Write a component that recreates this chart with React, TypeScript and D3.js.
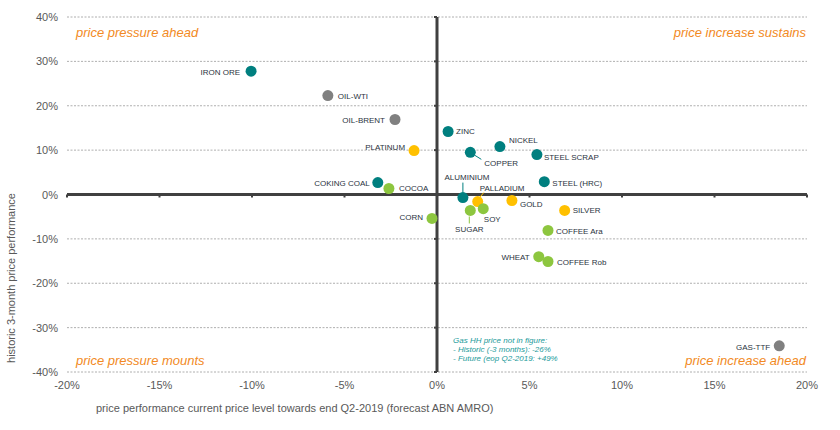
import React from "react";
import * as d3 from "d3";

const names = ["IRON ORE","OIL-WTI","OIL-BRENT","PLATINUM","COKING COAL","COCOA","ZINC","NICKEL","COPPER","STEEL SCRAP","STEEL (HRC)","ALUMINIUM","PALLADIUM","GOLD","SILVER","SUGAR","SOY","CORN","COFFEE Ara","WHEAT","COFFEE Rob","GAS-TTF"];
const forecastChange = [-10.05,-5.9,-2.27,-1.24,-3.2,-2.6,0.6,3.4,1.8,5.4,5.8,1.4,2.2,4.05,6.9,1.8,2.5,-0.27,6.0,5.5,6.0,18.5];
const historicChange = [27.8,22.3,16.9,9.9,2.7,1.35,14.2,10.8,9.5,9.0,2.9,-0.7,-1.6,-1.35,-3.6,-3.6,-3.2,-5.4,-8.1,-14.0,-15.1,-34.1];
const groups = ["metal","energy","energy","precious","metal","agri","metal","metal","metal","metal","metal","metal","precious","precious","precious","agri","agri","agri","agri","agri","agri","energy"];

const xTicks = [-20,-15,-10,-5,0,5,10,15,20];
const yTicks = [40,30,20,10,0,-10,-20,-30,-40];

const colorMap: Record<string,string> = { metal: "#007f7f", energy: "#808080", precious: "#ffc000", agri: "#8dc63f" };

// label placement: [dx, dy, anchor, leader?]
const labelPlace: [number, number, string, number[] | null][] = [
  [-11, 4, "end", null],
  [10, 3, "start", null],
  [-10, 3, "end", null],
  [-9, -1, "end", null],
  [-8, 3, "end", null],
  [10, 2, "start", null],
  [8, 3, "start", null],
  [9, -4, "start", null],
  [14, 14, "start", [3, 2, 11, 7]],
  [7, 5, "start", null],
  [8, 4, "start", null],
  [4, -18, "middle", [0, -5, 0, -15]],
  [2, -11, "start", [2, -4, 6, -9]],
  [8, 7, "start", null],
  [8, 3, "start", null],
  [-1, 22, "middle", [-1, 6, -1, 13]],
  [9, 13, "middle", null],
  [-9, 2, "end", null],
  [8, 4, "start", null],
  [-9, 3, "end", null],
  [9, 3, "start", null],
  [-9, 4, "end", null],
];

const noteLines = ["Gas HH price not  in figure:", "- Historic (-3 months):  -26%", "- Future  (eop Q2-2019:  +49%"];

export default function App() {
  const W = 840, H = 430;
  const x = d3.scaleLinear().domain([-20, 20]).range([67, 807]);
  const y = d3.scaleLinear().domain([-40, 40]).range([372, 17]);
  const font = "'Liberation Sans', Arial, sans-serif";
  const orange = "#f28a24";
  const data = names.map((n, i) => ({ n, fx: forecastChange[i], hy: historicChange[i], g: groups[i], lp: labelPlace[i] }));
  return (
    <svg width={W} height={H} style={{ position: "absolute", left: 0, top: 0, background: "#fff" }} fontFamily={font}>
      {yTicks.filter(t => t !== 0).map(t => (
        <line key={"g" + t} x1={x(-20)} x2={x(20)} y1={y(t)} y2={y(t)} stroke="#9a9a9a" strokeWidth={0.8} strokeDasharray="2,1.5" />
      ))}
      {yTicks.map(t => (
        <text key={"yt" + t} x={58} y={y(t) + 4} textAnchor="end" fontSize={11} fill="#595959">{t + "%"}</text>
      ))}
      {xTicks.map(t => (
        <text key={"xt" + t} x={x(t)} y={389} textAnchor="middle" fontSize={11} fill="#595959">{t + "%"}</text>
      ))}
      {/* zero axes */}
      <line x1={x(-20)} x2={x(20)} y1={y(0)} y2={y(0)} stroke="#404040" strokeWidth={3} />
      <line x1={x(0)} x2={x(0)} y1={y(40)} y2={y(-40)} stroke="#404040" strokeWidth={3} />
      {xTicks.map(t => (
        <line key={"xm" + t} x1={x(t)} x2={x(t)} y1={y(0)} y2={y(0) + 3} stroke="#404040" strokeWidth={2} />
      ))}
      {yTicks.map(t => (
        <line key={"ym" + t} x1={x(0) - 3} x2={x(0)} y1={y(t)} y2={y(t)} stroke="#404040" strokeWidth={2} />
      ))}
      {/* quadrant labels */}
      <text x={76} y={37} fontSize={13} fontStyle="italic" fill={orange}>price  pressure  ahead</text>
      <text x={806} y={37} fontSize={13} fontStyle="italic" fill={orange} textAnchor="end">price  increase  sustains</text>
      <text x={76} y={365} fontSize={13} fontStyle="italic" fill={orange}>price  pressure  mounts</text>
      <text x={806} y={365} fontSize={13} fontStyle="italic" fill={orange} textAnchor="end">price  increase  ahead</text>
      {/* note */}
      {noteLines.map((l, i) => (
        <text key={"n" + i} x={453} y={343 + i * 9} fontSize={8} fontStyle="italic" fill="#1a9a9a">{l}</text>
      ))}
      {/* leaders */}
      {data.map(d => d.lp[3] ? (
        <line key={"l" + d.n} x1={x(d.fx) + d.lp[3][0]} y1={y(d.hy) + d.lp[3][1]} x2={x(d.fx) + d.lp[3][2]} y2={y(d.hy) + d.lp[3][3]} stroke={colorMap[d.g]} strokeWidth={1} />
      ) : null)}
      {/* points */}
      {data.map(d => (
        <circle key={"c" + d.n} cx={x(d.fx)} cy={y(d.hy)} r={5.5} fill={colorMap[d.g]} />
      ))}
      {data.map(d => (
        <text key={"t" + d.n} x={x(d.fx) + d.lp[0]} y={y(d.hy) + d.lp[1]} textAnchor={d.lp[2] as any} fontSize={8} fill="#2a3340">{d.n}</text>
      ))}
      {/* axis titles */}
      <text transform={`translate(15, 278) rotate(-90)`} textAnchor="middle" fontSize={11} fill="#595959">historic 3-month price performance</text>
      <text x={96} y={412} fontSize={11} fill="#595959">price performance current price level towards end Q2-2019 (forecast ABN AMRO)</text>
    </svg>
  );
}
